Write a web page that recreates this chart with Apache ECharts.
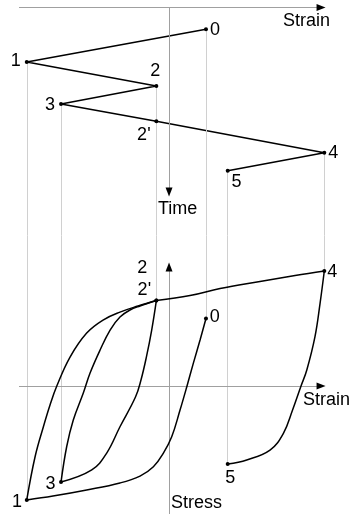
<!DOCTYPE html>
<html>
<head>
<meta charset="utf-8">
<script src="https://cdn.jsdelivr.net/npm/echarts@6/dist/echarts.min.js"></script>
<style>
  html, body { margin: 0; padding: 0; background: #fff; }
  #chart { width: 353px; height: 514px; }
</style>
</head>
<body>
<div id="chart"></div>
<script>
// Strain history over time (top) and the stress–strain response it produces (bottom).

// Reversal points, in the order they occur
const pointNames = ['0', '1', '2', '3', "2'", '4', '5'];
const strain = [0.262, -1.009, -0.090, -0.766, -0.090, 1.101, 0.416];
const time   = [1.09, 2.73, 3.93, 4.82, 5.69, 7.26, 8.16];
const stress = [0.587, -0.991, 0.743, -0.835, 0.743, 1.0, -0.678];

// Points sampled along each branch of the hysteresis curve, [strain, stress]
const branch0to1 = [
  [0.220, 0.400], [0.172, 0.197], [0.126, -0.006], [0.078, -0.209],
  [0.019, -0.441], [-0.040, -0.583], [-0.111, -0.702], [-0.206, -0.783],
  [-0.348, -0.843], [-0.584, -0.904], [-0.823, -0.957]
];
const branch1to2 = [
  [-0.950, -0.615], [-0.891, -0.354], [-0.844, -0.165], [-0.796, 0.0],
  [-0.702, 0.252], [-0.584, 0.461], [-0.468, 0.574], [-0.348, 0.643],
  [-0.220, 0.696]
];
const branch2to3 = [
  [-0.123, 0.487], [-0.160, 0.255], [-0.199, 0.052], [-0.238, -0.096],
  [-0.348, -0.354], [-0.442, -0.583], [-0.548, -0.730]
];
const branch3to2p = [
  [-0.726, -0.528], [-0.679, -0.296], [-0.608, -0.061], [-0.560, 0.113],
  [-0.489, 0.313], [-0.418, 0.487], [-0.348, 0.600], [-0.277, 0.661],
  [-0.206, 0.696]
];
const branch2pto4 = [
  [0.149, 0.787], [0.362, 0.848], [0.645, 0.909], [0.894, 0.961]
];
const branch4to5 = [
  [1.071, 0.719], [1.035, 0.429], [0.977, 0.139], [0.936, 0.0],
  [0.876, -0.209], [0.811, -0.411], [0.716, -0.557], [0.551, -0.643]
];

// Axis extents and where the arrowed axes stop
const strainRange = [-1.064, 1.106];
const timeRange = [0, 11.4];
const stressRange = [-1.113, 1.309];
const strainArrowEnd = 1.078;
const timeArrowEnd = 9.22;
const stressArrowEnd = 1.035;

// ---- styling ----
const FONT = "'Liberation Sans', Arial, sans-serif";
const INK = '#000';
const AXIS_GREY = '#a0a0a0';
const GUIDE_GREY = '#d0d0d0';
const topLabelOffset = {
  '0': [9, 0.5], '1': [-11, -1], '2': [-1, -15], '3': [-11, 1],
  "2'": [-12.5, 13.7], '4': [9, 0], '5': [8.7, 11]
};
const bottomLabelOffset = {
  '0': [8.7, -1], '1': [-9.7, 2], '2': [-14, -33], '3': [-10.5, 2],
  "2'": [-12, -11], '4': [8, 0.7], '5': [2.5, 14]
};

const idx = name => pointNames.indexOf(name);
const hyst = name => [strain[idx(name)], stress[idx(name)]];
const branch = (from, samples, to) => [hyst(from), ...samples, hyst(to)];

// one vertical guide per distinct strain value
const guideIdx = pointNames.map((n, i) => i).filter(i => strain.indexOf(strain[i]) === i);

const labelStyle = offset => ({
  show: true, position: 'inside', offset: offset, opacity: 1,
  color: INK, fontFamily: FONT, fontSize: 18
});

const plainLine = (c, w) => ({ color: c, width: w, type: 'solid' });

const chart = echarts.init(document.getElementById('chart'), null, { renderer: 'canvas' });

const hideAxis = {
  axisLine: { show: false }, axisTick: { show: false },
  axisLabel: { show: false }, splitLine: { show: false }
};

const branchSeries = data => ({
  type: 'line', xAxisIndex: 1, yAxisIndex: 1,
  data: data, smooth: 0.4, showSymbol: false, symbol: 'none',
  lineStyle: plainLine(INK, 1.5), silent: true, clip: false, z: 5
});

// reversal points drawn as dots with their names, no connecting line
const pointSeries = (xi, yi, values, offsets, z) => ({
  type: 'line', xAxisIndex: xi, yAxisIndex: yi, silent: true, z: z, clip: false,
  symbol: 'circle', symbolSize: 4, showSymbol: true,
  itemStyle: { color: INK, opacity: 1 },
  lineStyle: { width: 0, opacity: 0 },
  data: pointNames.map((n, i) => ({ name: n, value: values(i), label: labelStyle(offsets[n]) })),
  label: { show: true, formatter: p => p.name }
});

const arrowLine = (a, b) => [{ coord: a }, { coord: b }];

chart.setOption({
  animation: false,
  backgroundColor: '#fff',
  grid: [
    { left: 19, right: 28, top: 7.5, height: 228 },
    { left: 19, right: 28, top: 235.5, height: 278.5 }
  ],
  xAxis: [
    Object.assign({ type: 'value', gridIndex: 0, min: strainRange[0], max: strainRange[1] }, hideAxis),
    Object.assign({ type: 'value', gridIndex: 1, min: strainRange[0], max: strainRange[1] }, hideAxis)
  ],
  yAxis: [
    Object.assign({ type: 'value', gridIndex: 0, inverse: true, min: timeRange[0], max: timeRange[1] }, hideAxis),
    Object.assign({ type: 'value', gridIndex: 1, min: stressRange[0], max: stressRange[1] }, hideAxis)
  ],
  graphic: [
    { type: 'text', left: 283, top: 12, style: { text: 'Strain', fill: INK, font: '18px ' + FONT } },
    { type: 'text', left: 303, top: 391, style: { text: 'Strain', fill: INK, font: '18px ' + FONT } },
    { type: 'text', left: 158, top: 200, style: { text: 'Time', fill: INK, font: '18px ' + FONT } },
    { type: 'text', left: 171, top: 494, style: { text: 'Stress', fill: INK, font: '18px ' + FONT } }
  ],
  series: [
    // top panel: guides and axes
    {
      type: 'line', xAxisIndex: 0, yAxisIndex: 0, data: [], silent: true, z: 1,
      markLine: {
        silent: true, symbol: 'none', label: { show: false }, animation: false,
        data: [
          ...guideIdx.map(i => [
            { coord: [strain[i], time[i]], lineStyle: plainLine(GUIDE_GREY, 1) },
            { coord: [strain[i], timeRange[1]] }
          ]),
          [{ coord: [strainRange[0], 0], lineStyle: plainLine(AXIS_GREY, 1) }, { coord: [strainArrowEnd, 0] }],
          [{ coord: [0, 0], lineStyle: plainLine(AXIS_GREY, 1) }, { coord: [0, timeArrowEnd] }]
        ]
      }
    },
    {
      type: 'line', xAxisIndex: 0, yAxisIndex: 0, data: [], silent: true, z: 2,
      markLine: {
        silent: true, symbol: ['none', 'triangle'], symbolSize: [7, 9],
        label: { show: false }, lineStyle: plainLine(INK, 1), animation: false,
        data: [
          arrowLine([strainArrowEnd - 0.01, 0], [strainArrowEnd, 0]),
          arrowLine([0, timeArrowEnd - 0.05], [0, timeArrowEnd])
        ]
      }
    },
    // top panel: strain path through the reversal points
    {
      type: 'line', xAxisIndex: 0, yAxisIndex: 0, silent: true, z: 4, clip: false,
      symbol: 'none', showSymbol: false,
      lineStyle: plainLine(INK, 1.5),
      data: pointNames.map((n, i) => [strain[i], time[i]])
    },
    pointSeries(0, 0, i => [strain[i], time[i]], topLabelOffset, 6),
    // bottom panel: guides and axes
    {
      type: 'line', xAxisIndex: 1, yAxisIndex: 1, data: [], silent: true, z: 1,
      markLine: {
        silent: true, symbol: 'none', label: { show: false }, animation: false,
        data: [
          ...guideIdx.map(i => [
            { coord: [strain[i], stressRange[1]], lineStyle: plainLine(GUIDE_GREY, 1) },
            { coord: [strain[i], stress[i]] }
          ]),
          [{ coord: [strainRange[0], 0], lineStyle: plainLine(AXIS_GREY, 1) }, { coord: [strainArrowEnd, 0] }],
          [{ coord: [0, stressRange[0]], lineStyle: plainLine(AXIS_GREY, 1) }, { coord: [0, stressArrowEnd] }]
        ]
      }
    },
    {
      type: 'line', xAxisIndex: 1, yAxisIndex: 1, data: [], silent: true, z: 2,
      markLine: {
        silent: true, symbol: ['none', 'triangle'], symbolSize: [7, 9],
        label: { show: false }, lineStyle: plainLine(INK, 1), animation: false,
        data: [
          arrowLine([strainArrowEnd - 0.01, 0], [strainArrowEnd, 0]),
          arrowLine([0, stressArrowEnd - 0.01], [0, stressArrowEnd])
        ]
      }
    },
    // bottom panel: hysteresis branches
    branchSeries(branch('0', branch0to1, '1')),
    branchSeries(branch('1', branch1to2, '2')),
    branchSeries(branch('2', branch2to3, '3')),
    branchSeries(branch('3', branch3to2p, "2'")),
    branchSeries(branch("2'", branch2pto4, '4')),
    branchSeries(branch('4', branch4to5, '5')),
    pointSeries(1, 1, i => [strain[i], stress[i]], bottomLabelOffset, 6)
  ]
});
</script>
</body>
</html>
